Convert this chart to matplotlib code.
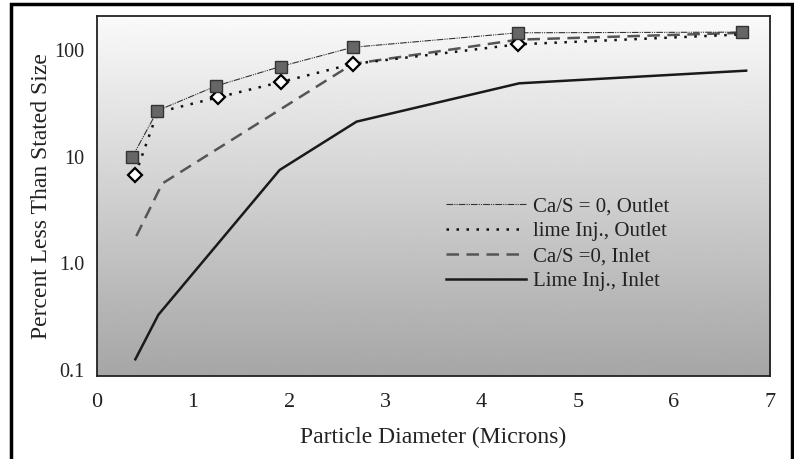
import numpy as np
import matplotlib.pyplot as plt
from matplotlib.patches import Rectangle

plt.rcParams['font.family'] = ['Liberation Serif', 'DejaVu Serif']

# Ca/S = 0, Outlet (squares)
x_ca_out = [0.37, 0.63, 1.24, 1.91, 2.66, 4.38, 6.71]
y_ca_out = [10, 27, 46, 70, 106, 145, 147]
# lime Inj., Outlet (diamonds)
x_lime_out = [0.40, 0.63, 1.26, 1.91, 2.66, 4.38, 6.71]
y_lime_out = [6.8, 26, 36, 50, 74, 113, 140]
# Ca/S = 0, Inlet
x_ca_in = [0.41, 0.68, 2.66, 4.38, 6.71]
y_ca_in = [1.8, 5.6, 74, 125, 145]
# Lime Inj., Inlet
x_lime_in = [0.40, 0.64, 1.90, 2.70, 4.39, 6.75]
y_lime_in = [0.126, 0.33, 7.5, 21.3, 48.7, 64]

fig = plt.figure(figsize=(7.94, 4.59), dpi=100, facecolor='w')
ax = fig.add_axes([0.122, 0.181, 0.848, 0.784])

# vertical grey gradient background
grad = np.linspace(0.98, 0.65, 256).reshape(-1, 1)
ax.imshow(grad, cmap='gray', vmin=0, vmax=1, aspect='auto',
          extent=[0, 1, 0, 1], transform=ax.transAxes, zorder=0)

ax.plot(x_ca_out, y_ca_out, color='#333333', lw=0.8, ls=(0, (6, 1, 1, 1, 1, 1)),
        label='Ca/S = 0, Outlet', zorder=3)
ax.plot(x_lime_out, y_lime_out, color='#111111', lw=1.8, ls=(0, (1, 3)),
        label='lime Inj., Outlet', zorder=3)
ax.plot(x_ca_in, y_ca_in, color='#555555', lw=1.8, ls=(0, (5, 3)),
        label='Ca/S =0, Inlet', zorder=2)
ax.plot(x_lime_in, y_lime_in, color='#1a1a1a', lw=1.8, ls='-',
        label='Lime Inj., Inlet', zorder=2)

ax.plot(x_ca_out, y_ca_out, ls='none', marker='s', ms=9, mfc='#666666',
        mec='#333333', mew=1, zorder=5)
ax.plot([x_lime_out[i] for i in (0, 2, 3, 4, 5)],
        [y_lime_out[i] for i in (0, 2, 3, 4, 5)], ls='none', marker='D', ms=7.5,
        mfc='white', mec='black', mew=1.6, zorder=4)

ax.set_yscale('log')
ax.set_xlim(0, 7)
ax.set_ylim(0.088, 208)
ax.set_yticks([0.1, 1, 10, 100])
ax.set_yticklabels(['0.1', '1.0', '10', '100'])
ax.yaxis.set_minor_locator(plt.NullLocator())
ax.set_xticks(range(8))
ax.tick_params(axis='x', length=0, labelsize=16, colors='#222222', pad=12)
ax.tick_params(axis='y', length=0, labelsize=14.5, colors='#222222', pad=9)
for s in ax.spines.values():
    s.set_linewidth(1.3)
    s.set_color('#222222')

ax.set_xlabel('Particle Diameter (Microns)', fontsize=17, color='#222222', labelpad=11)
ax.set_ylabel('Percent Less Than Stated Size', fontsize=17, color='#222222', labelpad=1.5)

leg = ax.legend(loc='center left', bbox_to_anchor=(0.49, 0.367), frameon=False,
                fontsize=15, handlelength=3.85, handletextpad=0.34, labelspacing=0.26,
                labelcolor='#222222')

fig.patches.append(Rectangle((11 / 794, -0.02), 781 / 794, 1.02 - 4 / 459,
                             transform=fig.transFigure, fill=False,
                             lw=2.5, ec='black'))

plt.savefig('out.png', dpi=100)
